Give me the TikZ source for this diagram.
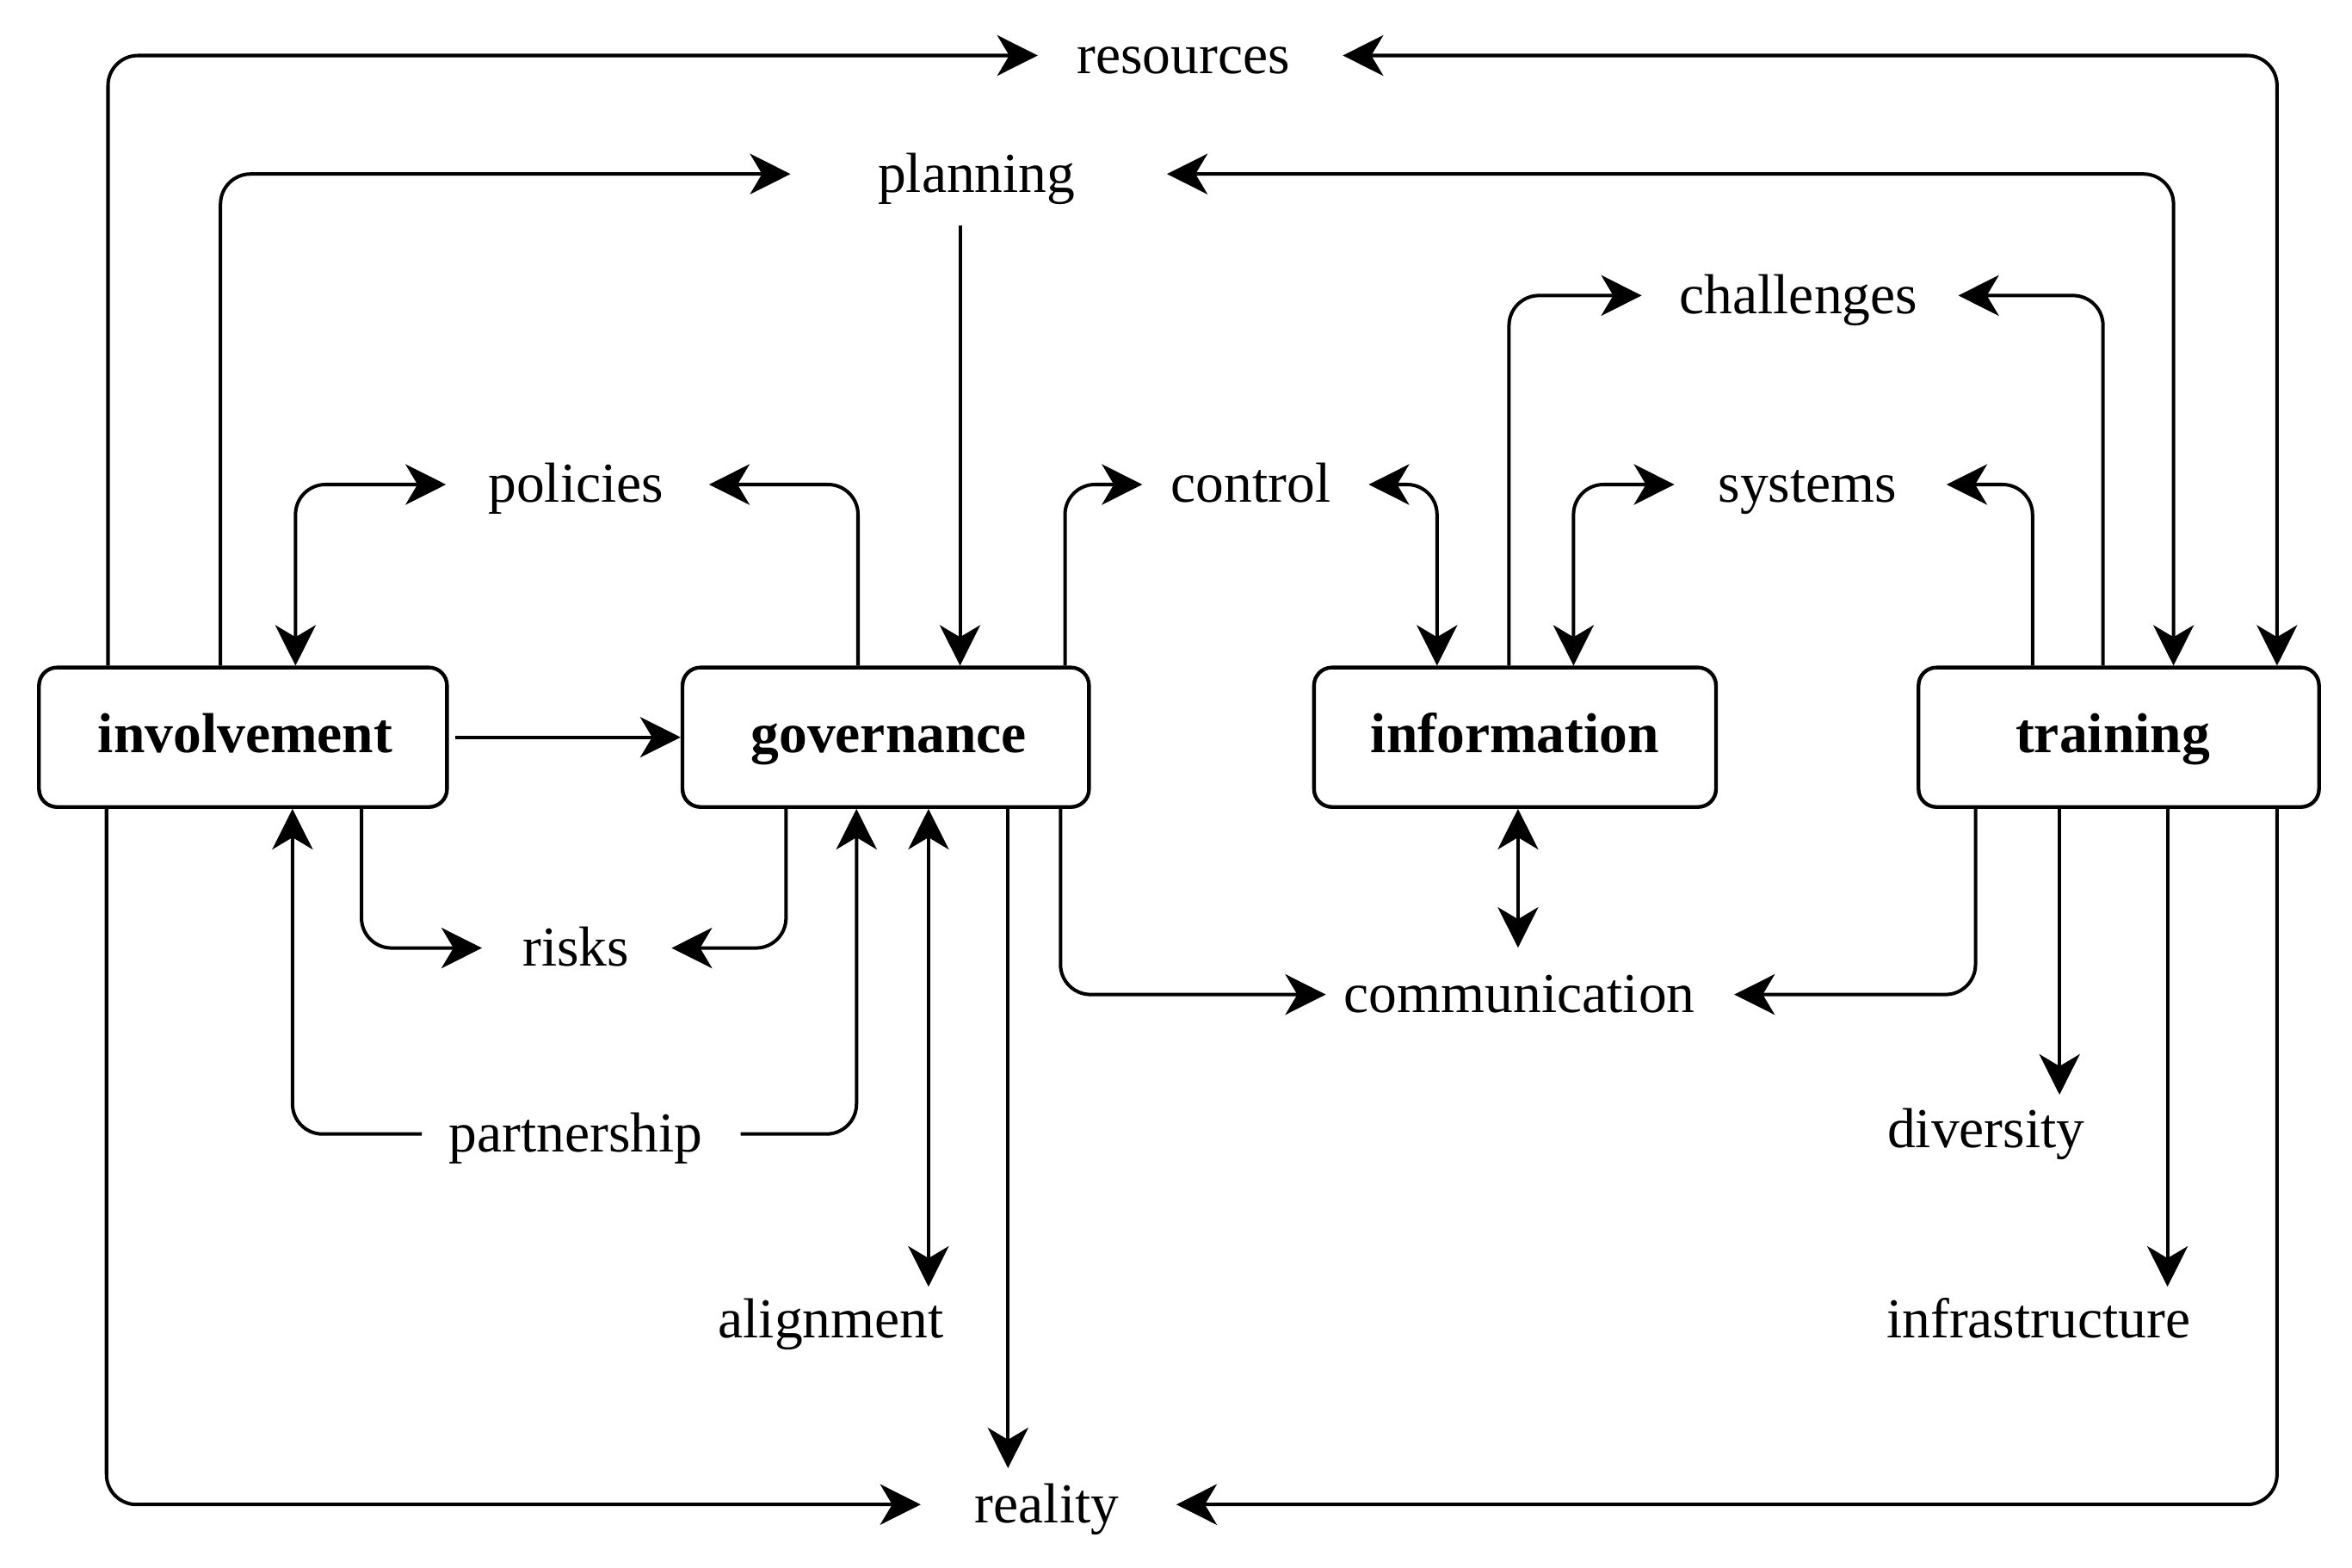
\documentclass[tikz,border=0pt]{standalone}
\usepackage{fontspec}
\setmainfont{Liberation Serif}
\usetikzlibrary{arrows.meta}
\begin{document}
\begin{tikzpicture}[x=1pt,y=-1pt,
  box/.style={draw, line width=2.5pt, rounded corners=12pt, minimum height=93pt, inner sep=0pt,
    text height=25pt, text depth=4pt, font=\fontsize{37.6pt}{45pt}\selectfont\bfseries},
  lbl/.style={inner sep=0pt, text height=32pt, text depth=8pt, font=\fontsize{37.6pt}{45pt}\selectfont},
  conn/.style={line width=2.3pt, rounded corners=20pt},
  arr/.style={conn, -{Stealth[length=27pt,width=27pt,inset=8pt]}},
  arrr/.style={conn, {Stealth[length=27pt,width=27pt,inset=8pt]}-{Stealth[length=27pt,width=27pt,inset=8pt]}}
]
\fill[white] (0,0) rectangle (1568,1045);
\useasboundingbox (0,0) rectangle (1568,1045);

% boxes
\node[box, minimum width=272pt] (inv) at (162,491.5) {\hspace*{3pt}involvement};
\node[box, minimum width=271pt] (gov) at (590.5,491.5) {\hspace*{4pt}governance};
\node[box, minimum width=268pt] (info) at (1010,491.5) {information};
\node[box, minimum width=267pt] (train) at (1412.5,491.5) {\hspace*{-8pt}training};

% labels
\node[lbl] (res) at (789,37) {resources};
\node[lbl] (plan) at (651,116) {planning};
\node[lbl] (chal) at (1199,197) {challenges};
\node[lbl] (pol) at (384,323) {policies};
\node[lbl] (ctrl) at (834,323) {control};
\node[lbl] (sys) at (1205,323) {systems};
\node[lbl] (risk) at (384,632) {risks};
\node[lbl] (comm) at (1013,663) {communication};
\node[lbl] (part) at (384,756) {partnership};
\node[lbl] (div) at (1324,753) {diversity};
\node[lbl] (align) at (554,880) {alignment};
\node[lbl] (infra) at (1359,880) {infrastructure};
\node[lbl] (real) at (698,1003) {reality};

% connectors
\draw[arr] ([xshift=-90pt]inv.north) |- ([xshift=-26pt]res.west);
\draw[arr] ([xshift=-15pt]inv.north) |- ([xshift=-58pt]plan.west);
\draw[arr] ([xshift=-11pt,yshift=-14pt]plan.south) -- ([xshift=49.5pt]gov.north);
\draw[arrr] ([xshift=35pt]res.east) -| ([xshift=105.5pt]train.north);
\draw[arrr] ([xshift=61pt]plan.east) -| ([xshift=36.5pt]train.north);
\draw[arr] ([xshift=-10.5pt]train.north) |- ([xshift=27pt]chal.east);
\draw[arr] ([xshift=-4pt]info.north) |- ([xshift=-25pt]chal.west);
\draw[arr] ([xshift=-57.5pt]train.north) |- ([xshift=33pt]sys.east);
\draw[arrr] ([xshift=39pt]info.north) |- ([xshift=-29pt]sys.west);
\draw[arrr] ([xshift=25pt]ctrl.east) -| ([xshift=-52pt]info.north);
\draw[arr] ([xshift=119.5pt]gov.north) |- ([xshift=-19pt]ctrl.west);
\draw[arr] ([xshift=-18.5pt]gov.north) |- ([xshift=30pt]pol.east);
\draw[arrr] ([xshift=35pt]inv.north) |- ([xshift=-28pt]pol.west);
\draw[arr] ([xshift=4pt]inv.east) -- (gov.west);
\draw[arr] ([xshift=79pt]inv.south) |- ([xshift=-27pt]risk.west);
\draw[arr] ([xshift=-66.5pt]gov.south) |- ([xshift=28pt]risk.east);
\draw[arr] ([xshift=-18pt]part.west) -| ([xshift=33pt]inv.south);
\draw[arr] ([xshift=25pt]part.east) -| ([xshift=-19.5pt]gov.south);
\draw[arrr] ([xshift=28.5pt]gov.south) -- ([xshift=65pt,yshift=2pt]align.north);
\draw[arr] ([xshift=81.5pt]gov.south) -- ([xshift=-26pt,yshift=4pt]real.north);
\draw[arr] ([xshift=116.5pt]gov.south) |- ([xshift=-12pt]comm.west);
\draw[arrr] ([xshift=2pt]info.south) -- ([xshift=-1pt,yshift=11pt]comm.north);
\draw[arr] ([xshift=-95.5pt]train.south) |- ([xshift=26pt]comm.east);
\draw[arr] ([xshift=-39.5pt]train.south) -- ([xshift=49pt,yshift=3pt]div.north);
\draw[arr] ([xshift=32.5pt]train.south) -- ([xshift=86pt,yshift=2pt]infra.north);
\draw[arr] ([xshift=-91pt]inv.south) |- ([xshift=-36pt]real.west);
\draw[arr] ([xshift=105.5pt]train.south) |- ([xshift=38pt]real.east);
\end{tikzpicture}
\end{document}
